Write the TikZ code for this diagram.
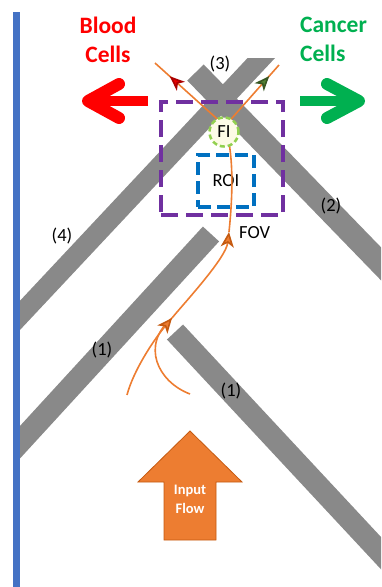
\documentclass[tikz,border=0pt]{standalone}
\usepackage{fontspec}
\setmainfont{Carlito}
\usetikzlibrary{arrows.meta,decorations.markings}

\definecolor{chanGray}{RGB}{137,137,137}
\definecolor{wallBlue}{RGB}{68,114,196}
\definecolor{fovPurple}{RGB}{112,48,160}
\definecolor{roiBlue}{RGB}{0,112,192}
\definecolor{flowOrange}{RGB}{237,125,49}
\definecolor{flowDark}{RGB}{197,90,17}
\definecolor{cancerGreen}{RGB}{0,176,80}
\definecolor{fiGreen}{RGB}{146,208,80}
\definecolor{fiFill}{RGB}{253,251,230}
\definecolor{bloodRed}{RGB}{230,0,0}
\definecolor{bloodDark}{RGB}{170,0,0}
\definecolor{tipGreen}{RGB}{84,130,53}
\definecolor{tipGreenDark}{RGB}{56,87,35}

\tikzset{
  otip/.tip={Stealth[length=15pt,width=13pt,inset=4pt,color=flowDark,fill=flowOrange]},
  bloodtip/.tip={Stealth[length=15pt,width=12pt,inset=4pt,color=bloodDark,fill=bloodRed]},
  cancertip/.tip={Stealth[length=15pt,width=12pt,inset=4pt,color=tipGreenDark,fill=tipGreen]},
}

\begin{document}
\begin{tikzpicture}[x=1pt,y=-1pt,
  channel/.style={chanGray, line width=22pt},
  traj/.style={flowOrange, line width=1.6pt},
  tipmark/.style 2 args={postaction={decorate},
    decoration={markings, mark=at position #1 with {\arrow{#2}}}},
  lbl/.style={inner sep=0pt, font=\fontsize{18.5}{22}\selectfont},
  sidearrow/.style={line width=12pt, line cap=round, line join=round},
  sidetext/.style={inner sep=0pt, font=\bfseries\fontsize{23.5}{29}\selectfont}]
  \useasboundingbox (0,0) rectangle (381,587);
  \clip (0,0) rectangle (381,587);

  % channel walls
  \begin{scope}
    \clip (17,58) rectangle (381,587);
    \draw[channel, line width=20pt] (10,326) -- (281,37);
    \draw[channel, line width=23pt] (195.5,72.5) -- (420,304);
    \draw[channel] (211,234) -- (0,464);
    \draw[channel] (175,332) -- (420,595);
  \end{scope}
  \fill[wallBlue] (13,12) rectangle (20,587);

  % field of view and region of interest
  \node[draw=fovPurple, line width=4pt, dash pattern=on 17pt off 8pt,
    minimum width=122pt, minimum height=113pt] (fovbox) at (222,158.5) {};
  \node[draw=roiBlue, line width=4pt, dash pattern=on 13pt off 6pt,
    minimum width=56pt, minimum height=52pt, inner sep=0pt,
    font=\fontsize{18.5}{22}\selectfont] (roi) at (226,181) {ROI};

  % cell paths
  \coordinate (s1) at (127,395);
  \coordinate (s2) at (190,394);
  \coordinate (m1) at (172,318);
  \coordinate (m2) at (229,232);
  \coordinate (fork) at (225,126);
  \coordinate (bl) at (155,63);
  \coordinate (ca) at (279,65);
  \draw[traj] (s2) .. controls (158,382) and (140,345) .. (m1);
  \draw[traj, -otip] (s1) .. controls (133,372) and (152,342) .. (m1);
  \draw[traj, -otip] (m1) .. controls (186,301) and (226,258) .. (m2);
  \draw[traj] (m2) .. controls (231,212) and (236,160) .. (fork);
  \draw[traj, tipmark={0.79}{bloodtip}] (fork) -- (bl);
  \draw[traj, tipmark={0.82}{cancertip}] (fork) -- (ca);
  \node[circle, draw=fiGreen, fill=fiFill, line width=2.5pt,
    dash pattern=on 5pt off 3pt, minimum size=29pt, inner sep=0pt,
    font=\fontsize{18.5}{22}\selectfont] (fi) at (224,132) {FI};

  % labels
  \node[lbl] (l3) at (220,64) {(3)};
  \node[lbl] (l4) at (62,236) {(4)};
  \node[lbl] (l2) at (331,206) {(2)};
  \node[lbl] (l1a) at (102,350) {(1)};
  \node[lbl] (l1b) at (231,391) {(1)};
  \node[lbl, anchor=west] (fov) at (239,233) {FOV};

  % sorting outputs
  \draw[red, line width=10pt] (148,101) -- (95,101);
  \draw[red, sidearrow] (119,84) -- (88,101) -- (119,118);
  \draw[cancerGreen, line width=10pt] (300,101) -- (352,101);
  \draw[cancerGreen, sidearrow] (327,84) -- (359,101) -- (327,118);
  \node[sidetext, red, align=center] (blood) at (108,39.5) {Blood\\Cells};
  \node[sidetext, cancerGreen, align=left, anchor=west] (cancer) at (300,39.5) {Cancer\\Cells};

  % input flow
  \filldraw[fill=flowOrange, draw=flowDark, line width=0.8pt]
    (190,431) -- (242,482) -- (216,482) -- (216,540) -- (164,540)
    -- (164,482) -- (138,482) -- cycle;
  \node[white, inner sep=0pt, font=\bfseries\fontsize{14.5}{19}\selectfont,
    align=center] (input) at (190,499) {Input\\Flow};
\end{tikzpicture}
\end{document}
